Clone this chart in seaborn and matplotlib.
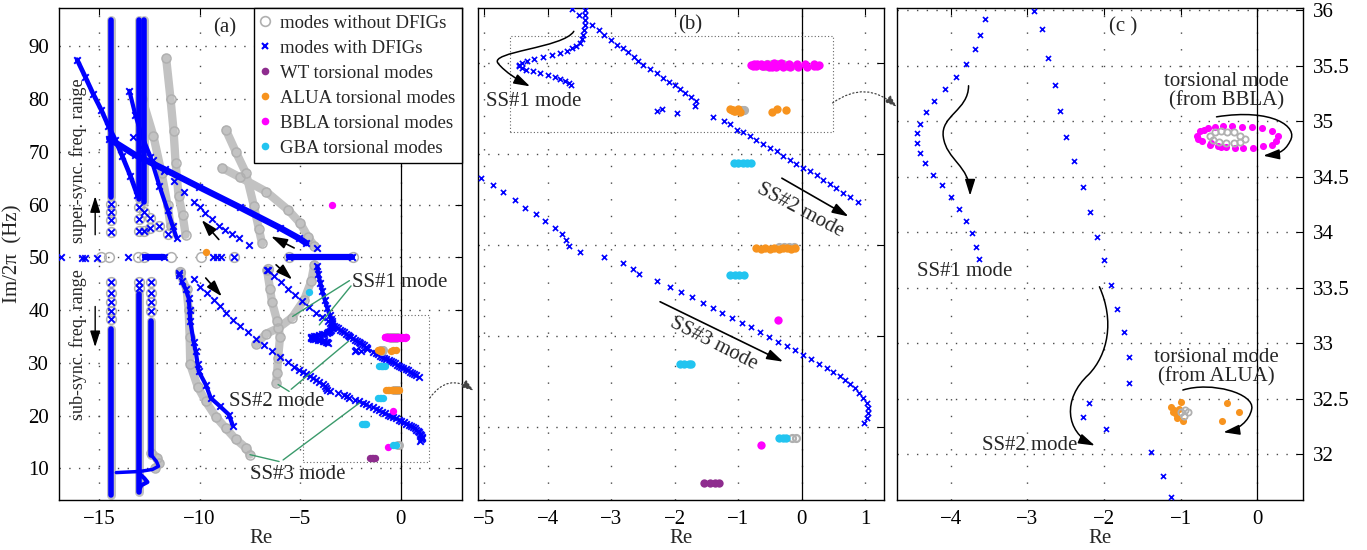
import matplotlib
matplotlib.use("Agg")
import matplotlib.pyplot as plt
import seaborn as sns
from matplotlib.lines import Line2D
from matplotlib.patches import Rectangle, FancyArrowPatch, ConnectionPatch
from matplotlib.path import Path

# ---------------------------------------------------------------- colours
BLUE = "#0000ff"
GRAY = "#b0b0b0"
GRAY_BAND = "#c2c2c2"
WT_C = "#8e2c8e"
ALUA_C = "#f7931e"
BBLA_C = "#ff00ff"
GBA_C = "#22c4f0"
GREEN = "#3a9a6b"
GRID = "#4a4a4a"

# ---------------------------------------------------------------- SS modes with DFIGs (Re, Im/2pi)
ss1_re = [-4.15, -4.10, -4.00, -3.90, -3.78, -3.65, -3.53, -3.45,
          -3.41, -3.41, -3.41, -3.42, -3.43, -3.44, -3.46, -3.50,
          -3.56, -3.62, -3.69, -3.80, -3.93, -4.08, -4.22, -4.33, -4.40, -4.45,
          -4.45, -4.41, -4.34, -4.24, -4.12, -4.00, -3.89, -3.80, -3.73, -3.67, -3.64]
ss1_im = [48.3, 46.8, 45.2, 43.6, 42.0, 40.4, 39.0, 38.3,
          37.91, 37.64, 37.36, 37.09, 36.81, 36.54, 36.30, 36.08,
          35.92, 35.78, 35.65, 35.52, 35.40, 35.29, 35.18, 35.08, 34.98, 34.89,
          34.80, 34.71, 34.62, 34.52, 34.43, 34.32, 34.21, 34.10, 33.99, 33.87, 33.76]

ss2_re = [-6.65, -6.30, -5.95, -5.60, -5.25, -4.90, -4.55, -4.20, -3.90,
          -3.62, -3.51, -3.30, -3.20, -3.11, -3.00, -2.91,
          -2.81, -2.73, -2.64, -2.57, -2.50, -2.39, -2.28, -2.18, -2.09, -2.00,
          -1.91, -1.83, -1.74, -1.67, -1.68,
          -2.20, -2.28, -1.97, -1.39, -1.23, -1.13,
          -1.02, -0.92, -0.81, -0.71, -0.60, -0.50, -0.39, -0.29, -0.18, -0.08,
          0.03, 0.13, 0.24, 0.34, 0.45, 0.55, 0.66, 0.76, 0.89]
ss2_im = [47.7, 46.5, 45.3, 44.1, 42.9, 41.7, 40.6, 39.5, 38.7,
          37.95, 37.64, 37.09, 36.81, 36.54, 36.26, 35.99,
          35.83, 35.57, 35.33, 35.09, 34.86, 34.64, 34.41, 34.18, 33.96, 33.75,
          33.53, 33.31, 33.10, 32.88, 32.64,
          32.46, 32.34, 32.23, 32.02, 31.81, 31.62,
          31.32, 31.17, 30.95, 30.77, 30.55, 30.31, 30.13, 29.89, 29.67, 29.45,
          29.21, 29.03, 28.81, 28.57, 28.35, 28.11, 27.87, 27.65, 27.38]

ss3_re = [-11.05, -10.30, -9.97, -9.62, -9.30, -9.00, -8.70, -8.35, -8.00, -7.60,
          -7.20, -6.80, -6.40, -6.00, -5.60, -5.30,
          -5.06, -4.87, -4.70, -4.52, -4.36, -4.19, -4.04, -3.89, -3.77, -3.71,
          -3.67, -3.50, -3.12, -2.82, -2.65, -2.56,
          -2.28, -2.07, -1.90, -1.73, -1.56, -1.40, -1.25, -1.10, -0.94, -0.80,
          -0.65, -0.51, -0.37, -0.23, -0.10, 0.03, 0.15, 0.28, 0.40, 0.49,
          0.60, 0.69, 0.76, 0.84, 0.91, 0.97, 1.03, 1.05, 1.05, 1.03, 0.98]
ss3_im = [46.7, 46.0, 44.4, 43.2, 41.9, 40.7, 39.5, 38.2, 37.0, 35.8,
          34.6, 33.4, 32.3, 31.2, 30.2, 29.3,
          28.66, 28.26, 27.90, 27.47, 27.05, 26.70, 26.33, 25.95, 25.58, 25.27,
          24.95, 24.63, 24.33, 24.00, 23.66, 23.40,
          23.04, 22.71, 22.43, 22.13, 21.83, 21.55, 21.28, 21.00, 20.73, 20.48,
          20.20, 19.95, 19.69, 19.47, 19.21, 18.96, 18.72, 18.48, 18.26, 18.04,
          17.82, 17.58, 17.35, 17.13, 16.89, 16.61, 16.30, 16.03, 15.75, 15.48, 15.24]

# ---------------------------------------------------------------- other loci with DFIGs (panel a)
b1_re = [-16.10, -15.70, -15.30, -14.90, -14.55, -14.20, -13.85, -13.45, -13.10]
b1_im = [87.5, 84.3, 81.0, 78.0, 75.0, 72.3, 69.2, 65.5, 61.8]

b2_re = [-14.50, -13.20, -11.75, -10.05, -8.00, -6.00, -5.05, -4.70]
b2_im = [72.5, 69.4, 66.7, 63.4, 59.5, 55.6, 53.6, 52.7]

b3_re = [-13.50, -13.20, -12.90, -12.45, -12.00, -11.60, -11.35, -11.15]
b3_im = [81.6, 77.0, 73.3, 69.1, 63.5, 59.0, 56.0, 53.7]

b4_re = [-13.30, -12.80, -12.30, -11.80, -11.30, -10.80, -10.30, -10.00, -9.72,
         -9.40, -9.05, -8.72, -8.40, -8.05, -7.55, -4.15]
b4_im = [72.9, 70.6, 68.4, 66.3, 64.4, 62.4, 60.6, 59.6, 58.4,
         57.2, 55.9, 55.2, 54.5, 53.7, 52.4, 51.8]

b8_re = [-10.90, -10.70, -10.55, -10.50, -10.47, -10.30, -10.20, -10.10, -10.05,
         -9.70, -9.45, -9.00, -8.55, -8.35]
b8_im = [45.5, 44.0, 42.3, 40.0, 37.9, 34.0, 32.2, 29.7, 28.4,
         25.9, 23.35, 21.8, 20.2, 18.1]

# vertical stripes: abscissa, top and bottom of the dense part
stripe_re = [-14.40, -13.00, -12.75, -14.40, -13.00, -12.40]
stripe_top = [95.0, 95.0, 95.0, 36.5, 43.0, 38.0]
stripe_bot = [61.5, 61.0, 60.5, 5.0, 5.5, 12.5]
# separate markers at the ends of the stripes
stripe_pts_re = [-14.40, -14.40, -14.40, -14.40, -13.00, -13.00, -13.00, -12.75, -12.75,
                 -12.45, -12.45, -14.40, -14.40, -14.40, -14.40, -14.40, -13.00, -13.00,
                 -12.40, -12.40, -12.40, -12.40, -12.00, -11.60]
stripe_pts_im = [60.2, 58.7, 57.1, 54.9, 59.5, 57.2, 55.0, 58.7, 55.0,
                 57.4, 55.5, 45.3, 43.2, 41.5, 39.9, 38.3, 45.3, 44.2,
                 45.3, 43.3, 41.6, 39.8, 55.9, 54.4]
s3_tail_re = [-12.40, -12.15, -12.05, -12.35, -13.00, -13.60, -14.15]
s3_tail_im = [12.5, 11.3, 10.4, 9.8, 9.4, 9.3, 9.2]
s2_tail_re = [-13.00, -12.75, -12.60, -12.90, -13.00]
s2_tail_im = [9.0, 8.1, 7.4, 6.8, 6.0]

# modes sitting on the 50 Hz line
h50_blue_re = [-16.90, -15.85, -15.70, -15.10, -13.55, -12.70, -11.80, -9.35, -9.15,
               -8.95, -8.30, -5.55, -2.40, -11.05, -6.60]
h50_blue_im = [50.0, 49.9, 49.9, 49.9, 50.0, 50.0, 50.0, 50.0, 50.0,
               50.0, 50.0, 50.0, 50.0, 47.0, 47.6]
h50_band_re = [[-12.70, -11.80], [-5.55, -2.40]]
h50_gray_re = [-14.90, -14.50, -13.05, -12.75, -11.45, -9.95, -8.30, -5.55, -2.35, -11.0, -6.6]
h50_gray_im = [50.0, 50.0, 50.0, 50.0, 50.0, 50.0, 50.0, 50.0, 50.0, 47.2, 47.8]

# ---------------------------------------------------------------- loci without DFIGs (panel a)
g1_re = [-11.67, -11.45, -11.30, -11.20, -11.05, -10.85, -10.70]
g1_im = [87.8, 80.0, 74.0, 68.0, 61.6, 58.0, 54.3]
gb3_re = [-12.85, -12.30, -11.90, -11.60, -11.45]
gb3_im = [80.0, 73.0, 66.0, 60.0, 56.0]
g2a_re = [-8.70, -8.20, -7.70, -7.30, -7.05, -6.90]
g2a_im = [74.2, 70.0, 66.0, 59.7, 55.3, 52.7]
g2b_re = [-8.90, -8.00, -6.70, -5.60, -5.00, -4.60, -4.30]
g2b_im = [67.0, 65.2, 62.5, 59.0, 56.5, 53.8, 52.2]
g3_re = [-6.65, -6.50, -6.40, -6.15, -6.00, -6.10, -6.15, -6.20]
g3_im = [47.6, 44.0, 41.5, 38.0, 35.0, 31.0, 28.0, 26.2]
g4_re = [-4.30, -4.45, -4.80, -5.40, -6.10, -6.70, -7.20]
g4_im = [48.6, 45.5, 42.0, 38.6, 36.6, 35.5, 33.5]
g5_re = [-11.00, -10.65, -10.55, -10.50, -10.47, -10.10, -9.70, -9.20, -8.70, -8.20, -7.70, -7.50]
g5_im = [47.0, 44.0, 40.0, 35.0, 29.7, 25.5, 22.7, 19.8, 17.6, 15.5, 13.9, 12.6]
gs3_tail_re = [-12.40, -12.10, -12.00, -12.20]
gs3_tail_im = [13.0, 12.0, 11.0, 10.0]

# ---------------------------------------------------------------- torsional modes
wt_re = [-1.53, -1.45, -1.37, -1.30]
wt_im = [11.95, 11.95, 11.95, 11.95]

alua_re = [-1.12, -1.10, -1.08, -1.06, -1.05, -1.02, -1.00, -0.97, -0.46, -0.39, -0.24,
           -0.71, -0.64, -0.57, -0.50, -0.43, -0.36, -0.30, -0.23, -0.16, -0.10, -9.70]
alua_im = [32.43, 32.38, 32.40, 32.36, 32.33, 32.41, 32.47, 32.30, 32.30, 32.46, 32.38,
           24.85, 24.80, 24.82, 24.80, 24.83, 24.80, 24.85, 24.83, 24.80, 24.85, 51.1]

bbla_re = [-0.79, -0.77, -0.75, -0.70, -0.64, -0.55, -0.44, -0.33, -0.20, -0.07, 0.06,
           0.19, 0.27, 0.25, 0.19, 0.08, -0.05, -0.18, -0.29, -0.40, -0.47, -0.51,
           -0.60, -0.62, -0.72, -3.40, -0.37, -0.64]
bbla_im = [34.87, 34.84, 34.91, 34.92, 34.94, 34.95, 34.96, 34.96, 34.95, 34.95, 34.94,
           34.91, 34.87, 34.82, 34.79, 34.78, 34.76, 34.76, 34.76, 34.77, 34.77, 34.78,
           34.80, 34.79, 34.82, 60.0, 20.9, 14.0]

gba_re = [-1.07, -1.00, -0.93, -0.86, -0.80, -1.12, -1.05, -0.98, -0.90,
          -1.92, -1.85, -1.78, -1.74, -0.36, -0.30, -0.24, -4.55]
gba_im = [29.5, 29.5, 29.5, 29.5, 29.5, 23.35, 23.35, 23.35, 23.35,
          18.45, 18.45, 18.45, 18.45, 14.4, 14.4, 14.4, 43.5]

# torsional modes of the system without DFIGs
gtor_re = [-0.62, -0.55, -0.47, -0.39, -0.30, -0.22, -0.16, -0.22, -0.30, -0.40, -0.50, -0.58,
           -0.99, -0.94, -0.90, -0.95, -0.35, -0.28, -0.20, -0.12, -0.15, -0.09]
gtor_im = [34.87, 34.90, 34.91, 34.90, 34.90, 34.87, 34.84, 34.81, 34.80, 34.80, 34.81, 34.83,
           32.38, 32.40, 32.38, 32.35, 24.9, 24.9, 24.9, 24.9, 14.4, 14.4]

legend_labels = ["modes without DFIGs", "modes with DFIGs", "WT torsional modes",
                 "ALUA torsional modes", "BBLA torsional modes", "GBA torsional modes"]

# ---------------------------------------------------------------- style
sns.set_style("white")
plt.rcParams["font.family"] = ["Liberation Serif", "DejaVu Serif"]
plt.rcParams["mathtext.fontset"] = "stix"
FS = 15

fig = plt.figure(figsize=(13.67, 5.5), dpi=100)
W, H = 1367.0, 550.0
axA = fig.add_axes([59 / W, 50 / H, 403 / W, 492 / H])
axB = fig.add_axes([478 / W, 50 / H, 406 / W, 492 / H])
axC = fig.add_axes([897 / W, 50 / H, 406 / W, 492 / H])


def xmarks(ax, re, im, s, lw=1.3, z=4):
    sns.scatterplot(x=re, y=im, marker="x", color=BLUE, s=s, linewidth=lw,
                    ax=ax, zorder=z, legend=False)


def rings(ax, re, im, ms, mew=1.1, z=2.5):
    ax.plot(re, im, ls="none", marker="o", mfc="none", mec=GRAY, ms=ms, mew=mew, zorder=z)


def dots(ax, re, im, color, s, z=5):
    sns.scatterplot(x=re, y=im, color=color, s=s, linewidth=0, ax=ax, zorder=z, legend=False)


def band(ax, re, im, color, lw, z):
    ax.plot(re, im, color=color, lw=lw, solid_capstyle="round",
            solid_joinstyle="round", zorder=z)


def frame(ax):
    ax.tick_params(direction="in", length=5, width=0.8, top=True, right=True,
                   labelsize=FS, pad=7, colors="black")
    for sp in ax.spines.values():
        sp.set_linewidth(1.0)
        sp.set_color("black")
    ax.xaxis.grid(True, linestyle=(0, (1, 11)), color=GRID, lw=1.0)
    ax.yaxis.grid(True, linestyle=(0, (1, 6)), color=GRID, lw=1.0)
    ax.set_axisbelow(True)
    ax.axvline(0, color="black", lw=0.9, zorder=1)
    ax.set_xlabel("Re", fontsize=FS, labelpad=0)


def straight_arrow(ax, start, end, lw=1.2):
    ax.annotate("", xy=end, xytext=start,
                arrowprops=dict(arrowstyle="-|>,head_length=0.7,head_width=0.22",
                                mutation_scale=14, color="black", lw=lw,
                                shrinkA=0, shrinkB=0), zorder=6)


def curved_arrow(ax, pts):
    codes = [Path.MOVETO] + [Path.CURVE4] * (len(pts) - 1)
    arr = FancyArrowPatch(path=Path(pts, codes),
                          arrowstyle="-|>,head_length=0.7,head_width=0.22",
                          mutation_scale=14, color="black", lw=1.1,
                          transform=ax.transData, zorder=6)
    ax.add_patch(arr)


# ================================================================ panel (a)
ax = axA
# loci without DFIGs
for xs in [[g1_re, g1_im], [gb3_re, gb3_im], [g2a_re, g2a_im], [g2b_re, g2b_im],
           [g3_re, g3_im], [g4_re, g4_im], [g5_re, g5_im], [gs3_tail_re, gs3_tail_im]]:
    band(ax, xs[0], xs[1], GRAY_BAND, 6.0, 2)
    rings(ax, xs[0], xs[1], 6.5)
for x0, t, b in zip(stripe_re, stripe_top, stripe_bot):
    band(ax, [x0, x0], [t, b], GRAY_BAND, 6.5, 2)
rings(ax, stripe_pts_re, stripe_pts_im, 7)
rings(ax, h50_gray_re, h50_gray_im, 7)

# loci with DFIGs
for x0, t, b in zip(stripe_re, stripe_top, stripe_bot):
    band(ax, [x0, x0], [t, b], BLUE, 4.0, 3)
band(ax, s3_tail_re, s3_tail_im, BLUE, 2.5, 3)
band(ax, s2_tail_re, s2_tail_im, BLUE, 3.0, 3)
band(ax, b1_re, b1_im, BLUE, 3.4, 3)
band(ax, b2_re, b2_im, BLUE, 4.6, 3)
band(ax, b3_re, b3_im, BLUE, 3.0, 3)
band(ax, b8_re, b8_im, BLUE, 3.0, 3)
band(ax, ss1_re, ss1_im, BLUE, 3.0, 3)
for seg in h50_band_re:
    band(ax, seg, [50.0, 50.0], BLUE, 4.5, 3)
for re, im in [[b1_re, b1_im], [b2_re, b2_im], [b3_re, b3_im], [b4_re, b4_im],
               [b8_re, b8_im], [ss1_re, ss1_im], [ss2_re, ss2_im], [ss3_re, ss3_im],
               [stripe_pts_re, stripe_pts_im], [h50_blue_re, h50_blue_im]]:
    xmarks(ax, re, im, 22, lw=1.4)

rings(ax, gtor_re, gtor_im, 5, mew=1.5, z=4.5)
dots(ax, wt_re, wt_im, WT_C, 28)
dots(ax, alua_re, alua_im, ALUA_C, 28)
dots(ax, bbla_re, bbla_im, BBLA_C, 28)
dots(ax, gba_re, gba_im, GBA_C, 28)

ax.set_xlim(-17.0, 3.05)
ax.set_ylim(4.0, 97.3)
ax.set_xticks([-15, -10, -5, 0])
ax.set_yticks([10, 20, 30, 40, 50, 60, 70, 80, 90])
frame(ax)
ax.set_ylabel("Im/2\u03c0  (Hz)", fontsize=FS, labelpad=4)

ax.add_patch(Rectangle((-4.85, 11.3), 6.25, 27.8, fill=False, ls=(0, (1, 2)),
                       lw=0.8, ec="#666666", zorder=1.5))

ax.text(-16.05, 68.3, "super-sync. freq. range", rotation=90, ha="center",
        va="center", fontsize=13)
ax.text(-16.05, 33.4, "sub-sync. freq. range", rotation=90, ha="center",
        va="center", fontsize=13)
straight_arrow(ax, (-15.2, 54.3), (-15.2, 61.6), lw=1.0)
straight_arrow(ax, (-15.2, 40.7), (-15.2, 33.0), lw=1.0)
straight_arrow(ax, (-9.05, 53.4), (-9.9, 57.1))
straight_arrow(ax, (-5.3, 51.8), (-6.45, 54.0))
straight_arrow(ax, (-6.2, 48.6), (-5.4, 45.8))
straight_arrow(ax, (-9.7, 46.1), (-8.9, 42.6))

ax.text(-8.75, 93.5, "(a)", fontsize=FS, ha="center", va="center")
ax.text(-2.4, 45.2, "SS#1 mode", fontsize=FS, ha="left", va="center")
ax.text(-8.55, 22.7, "SS#2 mode", fontsize=FS, ha="left", va="center")
ax.text(-7.5, 8.8, "SS#3 mode", fontsize=FS, ha="left", va="center")
for (x0, y0), (x1, y1) in [((-2.55, 45.6), (-5.38, 38.8)), ((-2.47, 44.6), (-4.05, 37.2)),
                           ((-5.55, 24.6), (-6.1, 25.9)), ((-5.45, 25.0), (-2.6, 34.1)),
                           ((-6.05, 11.3), (-7.5, 12.6)), ((-5.85, 11.6), (-2.05, 22.4))]:
    ax.plot([x0, x1], [y0, y1], color=GREEN, lw=1.0, zorder=6)

handles = [Line2D([], [], ls="none", marker="o", mfc="none", mec=GRAY, ms=7, mew=1.2),
           Line2D([], [], ls="none", marker="x", color=BLUE, ms=5, mew=1.5),
           Line2D([], [], ls="none", marker="o", color=WT_C, ms=5.5, mew=0),
           Line2D([], [], ls="none", marker="o", color=ALUA_C, ms=5.5, mew=0),
           Line2D([], [], ls="none", marker="o", color=BBLA_C, ms=5.5, mew=0),
           Line2D([], [], ls="none", marker="o", color=GBA_C, ms=5.5, mew=0)]
leg = ax.legend(handles, legend_labels, loc="upper right", borderaxespad=0,
                frameon=True, fancybox=False, edgecolor="black", framealpha=1,
                fontsize=13.5, handlelength=0.5, handletextpad=0.55,
                labelspacing=0.42, borderpad=0.35)
leg.get_frame().set_linewidth(1.0)
leg.set_zorder(10)

# ================================================================ panel (b)
ax = axB
for re, im in [[ss1_re, ss1_im], [ss2_re, ss2_im], [ss3_re, ss3_im]]:
    xmarks(ax, re, im, 14, lw=1.2)
rings(ax, gtor_re, gtor_im, 5, mew=1.6, z=4.5)
dots(ax, wt_re, wt_im, WT_C, 36)
dots(ax, alua_re, alua_im, ALUA_C, 36)
dots(ax, bbla_re, bbla_im, BBLA_C, 36)
dots(ax, gba_re, gba_im, GBA_C, 36)
ax.set_xlim(-5.1, 1.3)
ax.set_ylim(11.0, 38.0)
ax.set_xticks([-5, -4, -3, -2, -1, 0, 1])
ax.set_yticks([15, 20, 25, 30, 35])
frame(ax)
ax.tick_params(labelleft=False)
ax.add_patch(Rectangle((-4.59, 31.2), 5.08, 5.25, fill=False, ls=(0, (1, 2)),
                       lw=0.8, ec="#666666", zorder=1.5))
ax.text(-1.76, 37.1, "(b)", fontsize=FS, ha="center", va="center")
ax.text(-4.98, 32.87, "SS#1 mode", fontsize=FS, ha="left", va="center")
curved_arrow(ax, [(-3.59, 36.72), (-3.75, 35.8), (-4.95, 35.6), (-4.78, 34.95),
                  (-4.68, 34.5), (-4.45, 34.0), (-4.28, 33.7)])
straight_arrow(ax, (-0.31, 28.66), (0.74, 26.56))
ax.text(-0.02, 26.9, "SS#2 mode", fontsize=FS, rotation=-28, ha="center",
        va="center", rotation_mode="anchor")
straight_arrow(ax, (-2.23, 21.88), (-0.29, 18.59))
ax.text(-1.39, 19.6, "SS#3 mode", fontsize=FS, rotation=-27, ha="center",
        va="center", rotation_mode="anchor")

# ================================================================ panel (c)
ax = axC
for re, im in [[ss1_re, ss1_im], [ss2_re, ss2_im]]:
    xmarks(ax, re, im, 13, lw=1.2)
dots(ax, alua_re, alua_im, ALUA_C, 26)
dots(ax, bbla_re, bbla_im, BBLA_C, 26)
rings(ax, gtor_re, gtor_im, 4.5, mew=1.3, z=5.5)
ax.set_xlim(-4.705, 0.6)
ax.set_ylim(31.59, 36.02)
ax.set_xticks([-4, -3, -2, -1, 0])
ax.set_yticks([32, 32.5, 33, 33.5, 34, 34.5, 35, 35.5, 36])
ax.set_yticklabels(["32", "32.5", "33", "33.5", "34", "34.5", "35", "35.5", "36"])
frame(ax)
ax.tick_params(labelleft=False, labelright=True)
ax.text(-1.75, 35.85, "(c )", fontsize=FS, ha="center", va="center")
ax.text(-4.44, 33.65, "SS#1 mode", fontsize=FS, ha="left", va="center")
ax.text(-3.6, 32.08, "SS#2 mode", fontsize=FS, ha="left", va="center")
ax.text(-0.4, 35.27, "torsional mode\n(from BBLA)", fontsize=FS, ha="center",
        va="center", linespacing=1.05)
ax.text(-0.53, 32.785, "torsional mode\n(from ALUA)", fontsize=FS, ha="center",
        va="center", linespacing=1.05)
curved_arrow(ax, [(-3.77, 35.32), (-3.77, 35.1), (-4.14, 35.05), (-4.10, 34.86),
                  (-4.06, 34.65), (-3.75, 34.6), (-3.75, 34.33)])
curved_arrow(ax, [(-2.06, 33.51), (-1.86, 33.2), (-1.95, 32.9), (-2.2, 32.72),
                  (-2.55, 32.5), (-2.5, 32.2), (-2.12, 32.08)])
curved_arrow(ax, [(-0.53, 35.04), (0.2, 35.12), (0.55, 34.95), (0.43, 34.82),
                  (0.36, 34.72), (0.25, 34.7), (0.08, 34.69)])
curved_arrow(ax, [(-0.97, 32.58), (-0.6, 32.66), (-0.03, 32.55), (-0.07, 32.41),
                  (-0.1, 32.3), (-0.25, 32.22), (-0.44, 32.2)])

# ---------------------------------------------------------------- dotted links between panels
for (pa, axa, pb, axb, rad) in [((1.45, 23.35), axA, (-5.17, 17.0), axB, -0.5),
                                ((0.49, 32.79), axB, (-4.71, 35.13), axC, -0.4)]:
    con = ConnectionPatch(xyA=pa, coordsA=axa.transData, xyB=pb, coordsB=axb.transData,
                          arrowstyle="-|>,head_length=0.6,head_width=0.22",
                          mutation_scale=12, linestyle=(0, (1, 2)), color="#444444",
                          lw=0.9, connectionstyle=f"arc3,rad={rad}")
    con.set_annotation_clip(False)
    fig.add_artist(con)

fig.savefig("out.png", dpi=100)
